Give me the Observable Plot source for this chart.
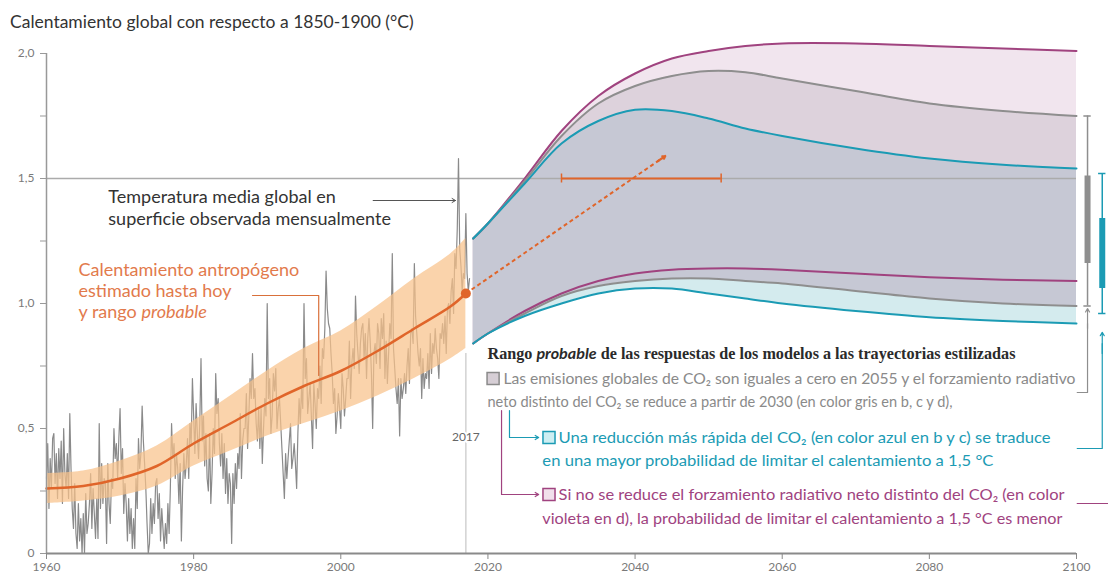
<!DOCTYPE html>
<html><head><meta charset="utf-8">
<script src="https://cdn.jsdelivr.net/npm/d3@7"></script>
<script src="https://cdn.jsdelivr.net/npm/@observablehq/plot@0.6"></script>
<style>
body{margin:0;background:#fff;font-family:Lato,sans-serif;}
#title{height:38px;box-sizing:border-box;padding:13px 0 0 10px;font-size:17.5px;color:#333;line-height:17px;white-space:nowrap;}
#chart svg{overflow:visible;display:block;}
</style></head><body>
<div id="title">Calentamiento global con respecto a 1850-1900 (°C)</div>
<div id="chart"></div>
<script>
// ---------- DATA ----------
// Observed global mean surface temperature (six samples per year, from 1960)
const obsStart = 1960, obsPerYear = 6;
const obsTemp = [
 .30,.44,.18,.38,.26,.46, .48,.28,.40,.22,.42,.30, .45,.20,.50,.32,.26,.40, .22,.56,.34,.18,.10,.28,
 .08,.02,.20,.05,.14,.00, .16,.00,.24,.08,.12,.20, .32,.10,.26,.16,.06,.22, .06,.52,.18,.36,.20,.30,
 .28,.04,.36,.20,.12,.30, .26,.50,.38,.44,.30,.46, .58,.32,.42,.16,.28,.20, .05,.22,.08,.18,.02,.14,
 .02,.30,.18,.46,.34,.40, .59,.45,.36,.26,.12,.00, .04,.22,.08,.20,.12,.28, .30,.14,.24,.05,.18,.10,
 .02,.12,.04,.20,.08,.26, .52,.38,.44,.30,.40,.34, .20,.36,.05,.26,.40,.30, .36,.46,.30,.52,.44,.70,
 .55,.40,.60,.48,.38,.52, .78,.45,.55,.35,.48,.30, .25,.48,.20,.32,.50,.40, .72,.56,.62,.44,.35,.48,
 .30,.44,.24,.38,.20,.32, .28,.04,.32,.20,.36,.26, .40,.34,.56,.30,.45,.50, .50,.64,.42,.55,.70,.62,
 .80,.62,.66,.52,.45,.58, .42,.58,.36,.50,.62,.55, 1.00,.62,.70,.48,.55,.72, .65,.74,.50,.58,.62,.52,
 .42,.32,.22,.40,.30,.38, .45,.52,.34,.38,.44,.36, .26,.48,.62,.52,.66,.58, 1.00,.70,.78,.56,.62,.68,
 .55,.42,.68,.60,.50,.66, .62,.75,.60,.82,.78,.90, 1.13,.98,.92,.90,.80,.72, .60,.66,.48,.55,.64,.58,
 .50,.72,.66,.55,.62,.70, .70,.85,.62,.76,.82,.74, 1.03,.88,.80,.72,.84,.90, .92,.78,.88,.70,.86,.94,
 .85,.72,.50,.80,.84,.76, .92,.88,.74,.94,.86,.96, .70,.85,.68,.80,.92,.86, 1.20,.82,.74,.66,.60,.70,
 .47,.70,.62,.66,.72,.64, .75,.82,.68,.88,.90,.84, 1.16,.95,.88,.80,.75,.82, .62,.78,.66,.72,.70,.80,
 .66,.88,.72,.84,.80,.90, .82,.78,.70,.88,.86,.92, .84,.95,.80,.98,1.00,.92, 1.05,1.10,.96,1.20,1.14,1.30,
 1.58,1.22,1.15,1.05,1.12,1.10, 1.36,1.12,1.05,1.10
];
// Estimated human-induced warming and likely range
const anthroYears = [1960,1965,1970,1975,1980,1985,1990,1995,2000,2005,2010,2015,2017];
const anthroMid   = [.26,.27,.30,.35,.44,.52,.60,.67,.73,.81,.90,.99,1.04];
const anthroLow   = [.20,.21,.23,.27,.35,.41,.47,.52,.57,.63,.70,.78,.82];
const anthroHigh  = [.32,.33,.37,.43,.53,.63,.73,.82,.89,.99,1.10,1.20,1.26];
// Stylized pathways, likely ranges
const futYears   = [2018,2020,2025,2030,2035,2040,2045,2050,2055,2060,2070,2080,2090,2100];
const violetHigh = [1.26,1.32,1.50,1.69,1.83,1.92,1.98,2.01,2.03,2.04,2.04,2.03,2.02,2.01];
const violetLow  = [.84,.88,.97,1.04,1.09,1.12,1.135,1.14,1.14,1.135,1.12,1.105,1.095,1.09];
const grayHigh   = [1.26,1.32,1.49,1.67,1.80,1.87,1.91,1.93,1.925,1.90,1.85,1.80,1.77,1.75];
const grayLow    = [.84,.88,.96,1.03,1.07,1.09,1.10,1.10,1.09,1.08,1.05,1.02,1.00,.99];
const blueHigh   = [1.26,1.32,1.48,1.64,1.73,1.775,1.77,1.74,1.70,1.67,1.62,1.58,1.555,1.54];
const blueLow    = [.84,.88,.95,1.00,1.04,1.06,1.06,1.04,1.02,1.00,.97,.945,.93,.92];
// Current warming and 1.5 °C crossing range
const nowYear = 2017, nowWarming = 1.04;
const crossYears = [2030.0, 2051.7];
const trendEnd = [2044.1, 1.59];
// 2100 ranges (min, likely low, likely high, max)
const grayBar = [0.99, 1.16, 1.51, 1.75];
const blueBar = [0.96, 1.06, 1.34, 1.52];
// Axes
const yTicks = [0, 0.5, 1, 1.5, 2];
const yTickLabels = ["0", "0,5", "1,0", "1,5", "2,0"];
const yMinorTicks = [0.25, 0.75, 1.25, 1.75];
const xTicks = [1960, 1980, 2000, 2020, 2040, 2060, 2080, 2100];

// ---------- TABLES ----------
const obs = obsTemp.map((v, i) => ({t: obsStart + i / obsPerYear, v}));
const anthro = anthroYears.map((t, i) => ({t, mid: anthroMid[i], lo: anthroLow[i], hi: anthroHigh[i]}));
const fut = futYears.map((t, i) => ({t, vH: violetHigh[i], vL: violetLow[i], gH: grayHigh[i], gL: grayLow[i], bH: blueHigh[i], bL: blueLow[i]}));

const C = {violet: "#a0437f", gray: "#8e8e8e", blue: "#1b9bb4", orange: "#e0652a", orangeText: "#e27a4c"};
const curve = "catmull-rom";

const notes = [
  {x: 1968.4, y: 1.424, t: "Temperatura media global en", c: "#333"},
  {x: 1968.4, y: 1.336, t: "superficie observada mensualmente", c: "#333"},
  {x: 1964.35, y: 1.132, t: "Calentamiento antropógeno", c: C.orangeText},
  {x: 1964.35, y: 1.048, t: "estimado hasta hoy", c: C.orangeText},
  {x: 1964.35, y: 0.964, t: "y rango *probable*", c: C.orangeText}
];
const legendHeader = "Rango *probable* de las respuestas de los modelos a las trayectorias estilizadas";
const legendLines = [
  {x: 2022.1, y: 0.70, t: "Las emisiones globales de CO₂ son iguales a cero en 2055 y el forzamiento radiativo", c: "#8a8a8a", w: 572},
  {x: 2019.94, y: 0.608, t: "neto distinto del CO₂ se reduce a partir de 2030 (en color gris en b, c y d),", c: "#8a8a8a", w: 465},
  {x: 2029.6, y: 0.464, t: "Una reducción más rápida del CO₂ (en color azul en b y c) se traduce", c: C.blue, w: 492},
  {x: 2027.4, y: 0.372, t: "en una mayor probabilidad de limitar el calentamiento a 1,5 °C", c: C.blue, w: 451},
  {x: 2029.6, y: 0.236, t: "Si no se reduce el forzamiento radiativo neto distinto del CO₂ (en color", c: C.violet, w: 506},
  {x: 2027.4, y: 0.14, t: "violeta en d), la probabilidad de limitar el calentamiento a 1,5 °C es menor", c: C.violet, w: 520}
];
const legendSquares = [
  {x: 2020.7, y: 0.70, f: "#d6ced5", s: "#8a8a8a"},
  {x: 2028.3, y: 0.464, f: "#cdeef2", s: C.blue},
  {x: 2028.3, y: 0.236, f: "#f1e0eb", s: C.violet}
];

const slope = (trendEnd[1] - nowWarming) / (trendEnd[0] - nowYear);

const plot = Plot.plot({
  width: 1108, height: 536,
  marginTop: 15, marginBottom: 21, marginLeft: 46, marginRight: 32,
  x: {domain: [1960, 2100]},
  y: {domain: [0, 2]},
  style: {fontFamily: "Lato, sans-serif", background: "#fff", overflow: "visible"},
  marks: [
    // future ranges
    Plot.areaY(fut, {x: "t", y1: "vL", y2: "vH", fill: "#f1e5ee", curve}),
    Plot.areaY(fut, {x: "t", y1: "gL", y2: "gH", fill: "#ddd2dc", curve}),
    Plot.areaY(fut, {x: "t", y1: "bL", y2: "gL", fill: "#d4ebee", curve}),
    Plot.areaY(fut, {x: "t", y1: "gL", y2: "bH", fill: "#c6c8d4", curve}),
    // reference lines
    Plot.ruleY([1.5], {x1: 1960, x2: 2100, stroke: "#ababab", strokeWidth: 1.5}),
    Plot.ruleX([nowYear], {y1: 0, y2: 0.8, stroke: "#d2d2d2", strokeWidth: 1.5}),
    // observed
    Plot.line(obs, {x: "t", y: "v", stroke: "#8a8a8a", strokeWidth: 1.2}),
    // anthropogenic
    Plot.areaY(anthro, {x: "t", y1: "lo", y2: "hi", fill: "#f8c28a", fillOpacity: 0.72, curve}),
    Plot.line(anthro, {x: "t", y: "mid", stroke: C.orange, strokeWidth: 2.5, curve}),
    // future lines
    Plot.line(fut, {x: "t", y: "vH", stroke: C.violet, strokeWidth: 2, curve}),
    Plot.line(fut, {x: "t", y: "vL", stroke: C.violet, strokeWidth: 2, curve}),
    Plot.line(fut, {x: "t", y: "gH", stroke: C.gray, strokeWidth: 2, curve}),
    Plot.line(fut, {x: "t", y: "gL", stroke: C.gray, strokeWidth: 2, curve}),
    Plot.line(fut, {x: "t", y: "bH", stroke: C.blue, strokeWidth: 2, curve}),
    Plot.line(fut, {x: "t", y: "bL", stroke: C.blue, strokeWidth: 2, curve}),
    // crossing range and trend arrow
    Plot.ruleY([1.5], {x1: crossYears[0], x2: crossYears[1], stroke: C.orange, strokeWidth: 2}),
    Plot.ruleX(crossYears, {y1: 1.5 - 0.018, y2: 1.5 + 0.018, stroke: C.orange, strokeWidth: 1.5}),
    Plot.link([0], {x1: nowYear, y1: nowWarming, x2: trendEnd[0] - 0.8, y2: trendEnd[1] - 0.8 * slope, stroke: C.orange, strokeWidth: 2, strokeDasharray: "4,3"}),
    Plot.arrow([0], {x1: trendEnd[0] - 1.0, y1: trendEnd[1] - 1.0 * slope, x2: trendEnd[0], y2: trendEnd[1], stroke: C.orange, strokeWidth: 2.2, headLength: 9}),
    Plot.dot([0], {x: nowYear, y: nowWarming, r: 5, fill: C.orange}),
    // 2100 bars
    Plot.ruleX([2101.5], {y1: grayBar[0], y2: grayBar[3], stroke: "#8e8e8e", strokeWidth: 1.5}),
    Plot.ruleX([2101.5], {y1: grayBar[1], y2: grayBar[2], stroke: "#8e8e8e", strokeWidth: 6}),
    Plot.ruleY([grayBar[0], grayBar[3]], {x1: 2101.0, x2: 2102.0, stroke: "#8e8e8e", strokeWidth: 1.5}),
    Plot.ruleX([2103.5], {y1: blueBar[0], y2: blueBar[3], stroke: C.blue, strokeWidth: 1.5}),
    Plot.ruleX([2103.5], {y1: blueBar[1], y2: blueBar[2], stroke: C.blue, strokeWidth: 6}),
    Plot.ruleY([blueBar[0], blueBar[3]], {x1: 2103.0, x2: 2104.0, stroke: C.blue, strokeWidth: 1.5}),
    // axes
    Plot.ruleX([1960], {y1: 0, y2: 2, stroke: "#999", strokeWidth: 1.5}),
    Plot.ruleY([0], {x1: 1960, x2: 2100, stroke: "#8a8a8a", strokeWidth: 2}),
    Plot.axisY(yTicks, {tickSize: 6, tickPadding: 6, fontSize: 12, color: "#7a7a7a", stroke: "#999", label: null,
      tickFormat: d => yTickLabels[yTicks.indexOf(d)]}),
    Plot.axisY(yMinorTicks, {tickSize: 6, fontSize: 12, color: "#7a7a7a", stroke: "#999", label: null, tickFormat: () => ""}),
    Plot.axisX(xTicks, {tickSize: 6, tickPadding: 3, fontSize: 12, color: "#7a7a7a", stroke: "#888", label: null, tickFormat: d => String(d)}),
    // annotations
    Plot.text(notes, {x: "x", y: "y", text: "t", fill: "c", fontSize: 18, textAnchor: "start"}),
    Plot.arrow([0], {x1: 2004.4, y1: 1.412, x2: 2015.6, y2: 1.412, stroke: "#555", strokeWidth: 1, headLength: 6}),
    Plot.line([[1988, 1.032], [1997, 1.032], [1997, 0.712]], {stroke: "#d9703a", strokeWidth: 1.2}),
    Plot.text([nowYear], {x: d => d, y: 0.464, text: d => String(d), fontSize: 12, fill: "#666", stroke: "#fff", strokeWidth: 4}),
    // legend
    Plot.text([legendHeader], {x: 2019.94, y: 0.80, text: d => d, textAnchor: "start", fontSize: 16, fontWeight: "bold", fill: "#2a2a2a", fontFamily: "Liberation Serif, serif"}),
    Plot.text(legendLines, {x: "x", y: "y", text: "t", fill: "c", fontSize: 16, textAnchor: "start"}),
    Plot.dot(legendSquares, {x: "x", y: "y", fill: "f", stroke: "s", symbol: "square", r: 6.8, strokeWidth: 1.5}),
    Plot.line([[2022.93, 0.572], [2022.93, 0.464], [2026.0, 0.464]], {stroke: C.blue, strokeWidth: 1.2}),
    Plot.arrow([0], {x1: 2025.0, y1: 0.464, x2: 2026.9, y2: 0.464, stroke: C.blue, strokeWidth: 1.2, headLength: 5}),
    Plot.line([[2021.85, 0.572], [2021.85, 0.236], [2026.0, 0.236]], {stroke: C.violet, strokeWidth: 1.2}),
    Plot.arrow([0], {x1: 2025.0, y1: 0.236, x2: 2026.9, y2: 0.236, stroke: C.violet, strokeWidth: 1.2, headLength: 5}),
    // connectors to 2100 bars
    Plot.line([[2100.1, 0.644], [2101.5, 0.644], [2101.5, 0.92]], {stroke: "#8e8e8e", strokeWidth: 1.2}),
    Plot.arrow([0], {x1: 2101.5, y1: 0.9, x2: 2101.5, y2: 0.98, stroke: "#8e8e8e", strokeWidth: 1.2, headLength: 5}),
    Plot.line([[2100.1, 0.42], [2103.5, 0.42], [2103.5, 0.84]], {stroke: C.blue, strokeWidth: 1.2}),
    Plot.arrow([0], {x1: 2103.5, y1: 0.8, x2: 2103.5, y2: 0.885, stroke: C.blue, strokeWidth: 1.2, headLength: 5}),
    Plot.ruleY([0.2], {x1: 2100.1, x2: 2104.5, stroke: C.violet, strokeWidth: 1.2})
  ]
});
document.getElementById("chart").appendChild(plot);

// fit legend lines to their widths in the original layout
const widthByText = new Map(legendLines.map(d => [d.t, d.w]));
widthByText.set(legendHeader.replace(/\*/g, ""), 528);
plot.querySelectorAll("text").forEach(el => {
  const raw = el.textContent;
  if (el.children.length === 0 && raw.includes("*")) {
    const parts = raw.split("*");
    el.textContent = "";
    parts.forEach((p, i) => {
      const ts = document.createElementNS("http://www.w3.org/2000/svg", "tspan");
      ts.textContent = p;
      if (i % 2 === 1) { ts.setAttribute("font-style", "italic"); ts.setAttribute("font-family", "Lato, sans-serif"); }
      el.appendChild(ts);
    });
  }
  const w = widthByText.get(el.textContent);
  if (w) { el.setAttribute("textLength", w); el.setAttribute("lengthAdjust", "spacingAndGlyphs"); }
});
</script></body></html>
